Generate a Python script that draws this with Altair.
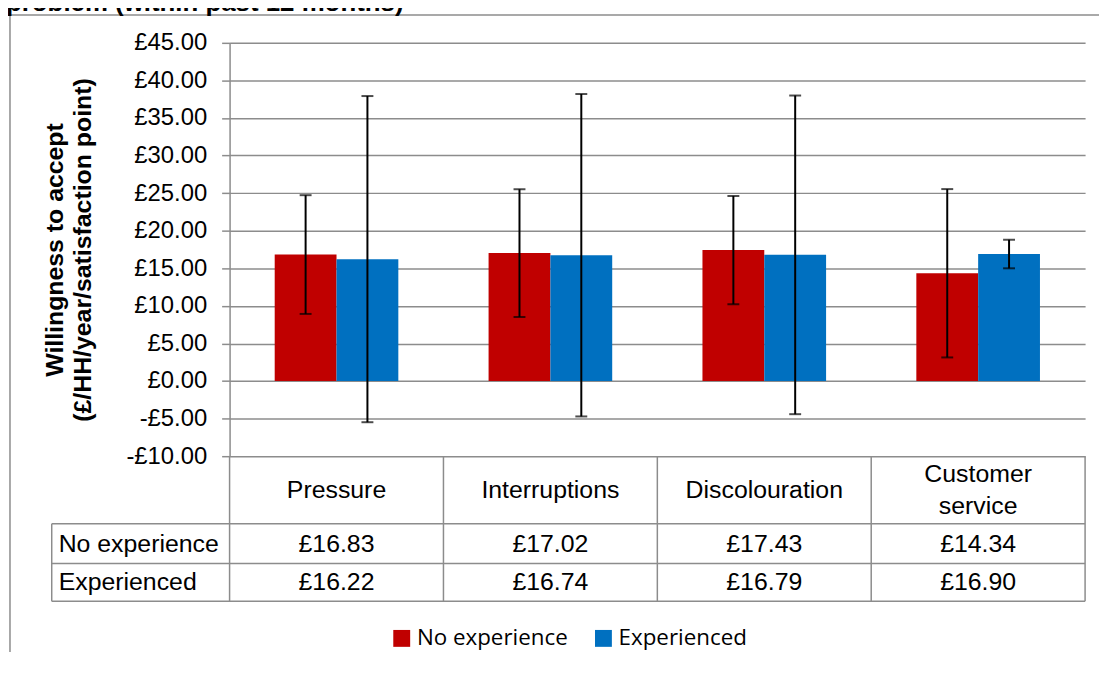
import altair as alt
import pandas as pd

# ---------------- data ----------------
categories = ["Pressure", "Interruptions", "Discolouration", "Customer service"]
series = ["No experience", "Experienced"]
no_experience = [16.83, 17.02, 17.43, 14.34]
experienced = [16.22, 16.74, 16.79, 16.90]
no_experience_err = [7.9, 8.5, 7.2, 11.2]
experienced_err = [21.7, 21.45, 21.2, 1.9]
colors = ["#C00000", "#0070C0"]
y_ticks = [-10, -5, 0, 5, 10, 15, 20, 25, 30, 35, 40, 45]
chart_title = "problem (within past 12 months)"
y_title = ["Willingness to accept", "(£/HH/year/satisfaction  point)"]

rows = []
for i, c in enumerate(categories):
    rows.append(dict(cat=c, series=series[0], value=no_experience[i], err=no_experience_err[i]))
    rows.append(dict(cat=c, series=series[1], value=experienced[i], err=experienced_err[i]))
df = pd.DataFrame(rows)
df["lo"] = df["value"] - df["err"]
df["hi"] = df["value"] + df["err"]
cat_df = pd.DataFrame({"cat": categories})
ser_df = pd.DataFrame({"series": series})
dummy = pd.DataFrame({"d": [0]})

# ---------------- layout ----------------
W, H = 861, 416
GRID = "#8C8C8C"
FONT = "Liberation Sans"

x_scale = alt.Scale(domain=categories, paddingInner=0, paddingOuter=0)
x_enc = alt.X("cat:N", sort=categories, scale=x_scale, axis=None)
xo_enc = alt.XOffset("series:N", sort=series,
                     scale=alt.Scale(domain=series, paddingInner=0, paddingOuter=0.73))
y_scale = alt.Scale(domain=[-10, 45], nice=False, zero=False)

label_expr = ("datum.value < 0 ? '-£' + format(abs(datum.value), '.2f') "
              ": '£' + format(datum.value, '.2f')")

y_axis = alt.Axis(
    values=y_ticks, tickCount=12, labelExpr=label_expr, labelOverlap=False,
    grid=True, gridColor=GRID, gridWidth=1.5,
    domainColor=GRID, domainWidth=1.5, tickColor=GRID, tickWidth=1.5, tickSize=8,
    labelFont=FONT, labelFontSize=24, labelColor="black", labelPadding=15,
    title=y_title, titleFont=FONT, titleFontSize=25, titleFontWeight="bold",
    titleColor="black", titleAngle=270, titleX=-188, titleY=H / 2,
    titleAlign="center", titleBaseline="top", titleLineHeight=28,
)

legend = alt.Legend(
    orient="none", legendX=162, legendY=588, direction="horizontal", title=None,
    symbolType="square", symbolSize=289, symbolStrokeWidth=0,
    labelFont="Open Sans", labelFontSize=22.5, labelColor="black",
    columnPadding=24, labelOffset=4, padding=0, labelLimit=400,
)

base = alt.Chart(df)

bars = base.mark_bar().encode(
    x=x_enc, xOffset=xo_enc,
    y=alt.Y("value:Q", scale=y_scale, axis=y_axis),
    y2=alt.datum(0),
    color=alt.Color("series:N", sort=series,
                    scale=alt.Scale(domain=series, range=colors), legend=legend),
)

err_rule = base.mark_rule(color="black", strokeWidth=2).encode(
    x=x_enc, xOffset=xo_enc, y=alt.Y("lo:Q", scale=y_scale, axis=y_axis), y2="hi:Q"
)
cap_lo = base.mark_tick(color="black", thickness=2, size=12).encode(
    x=x_enc, xOffset=xo_enc, y=alt.Y("lo:Q", scale=y_scale, axis=y_axis)
)
cap_hi = base.mark_tick(color="black", thickness=2, size=12).encode(
    x=x_enc, xOffset=xo_enc, y=alt.Y("hi:Q", scale=y_scale, axis=y_axis)
)


def hline(x1, x2, y, color=GRID, w=1.5):
    return alt.Chart(dummy).mark_rule(color=color, strokeWidth=w).encode(
        x=alt.value(x1), x2=alt.value(x2), y=alt.value(y))


def vline(x, y1, y2, color=GRID, w=1.5):
    return alt.Chart(dummy).mark_rule(color=color, strokeWidth=w).encode(
        x=alt.value(x), y=alt.value(y1), y2=alt.value(y2))


# table grid
table_vsep = alt.Chart(cat_df).mark_rule(color=GRID, strokeWidth=1.5).encode(
    x=alt.X("cat:N", bandPosition=1, sort=categories, scale=x_scale, axis=None),
    y=alt.value(H), y2=alt.value(562),
)
decor = [
    vline(0, H, 562),            # axis line continued through the table
    vline(-179, 484, 562),       # left edge of row-label column
    hline(-179, W, 484),
    hline(-179, W, 524),
    hline(-179, W, 562),
    vline(-221, -28, 620),       # outer chart border
    hline(-221, 880, -28),
]

# category header row (wrapped labels get lifted so the block stays centred)
cat_single = alt.Chart(cat_df).transform_filter(
    "indexof(datum.cat, ' ') < 0"
).mark_text(
    font=FONT, fontSize=25, color="black", baseline="middle"
).encode(x=x_enc, y=alt.value(450), text="cat:N")
cat_wrapped = alt.Chart(cat_df).transform_filter(
    "indexof(datum.cat, ' ') >= 0"
).mark_text(
    lineBreak=" ", font=FONT, fontSize=25, color="black", baseline="middle", lineHeight=32
).encode(x=x_enc, y=alt.value(434), text="cat:N")

table_texts = []
row_y = [504, 543]
for s, yv in zip(series, row_y):
    table_texts.append(
        base.transform_filter(alt.datum.series == s)
        .transform_calculate(lbl="'£' + format(datum.value, '.2f')")
        .mark_text(font=FONT, fontSize=25, color="black", baseline="middle")
        .encode(x=x_enc, y=alt.value(yv), text="lbl:N")
    )
    table_texts.append(
        alt.Chart(ser_df).transform_filter(alt.datum.series == s)
        .mark_text(font=FONT, fontSize=25, color="black", baseline="middle", align="left")
        .encode(x=alt.value(-172), y=alt.value(yv), text="series:N")
    )

title_text = alt.Chart(dummy).mark_text(
    text=chart_title, font=FONT, fontSize=26, fontWeight="bold", color="black",
    align="left", baseline="alphabetic"
).encode(x=alt.value(-225), y=alt.value(-32))

chart = alt.layer(
    bars, err_rule, cap_lo, cap_hi, table_vsep, *decor, cat_single, cat_wrapped,
    *table_texts, title_text
).properties(
    width=W, height=H,
    padding={"left": 223, "top": 33, "right": 14, "bottom": 195},
    autosize=alt.AutoSizeParams(type="none"),
).configure_view(stroke=None)

chart.save("out.html", embed_options={"renderer": "svg", "actions": False})
